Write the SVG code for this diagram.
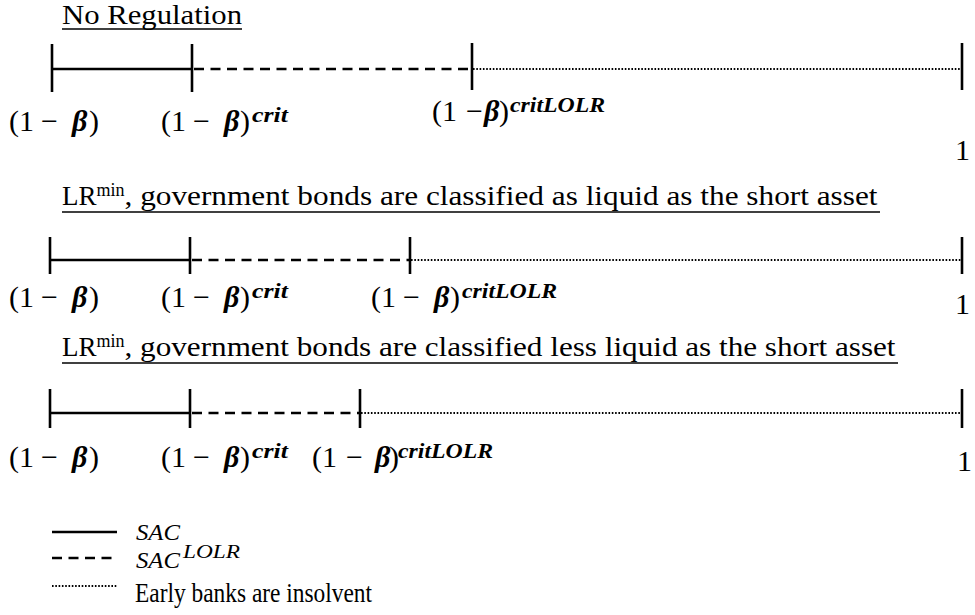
<svg xmlns="http://www.w3.org/2000/svg" width="975" height="615" viewBox="0 0 975 615">
<style>
text{font-family:"Liberation Serif","Times New Roman",serif;fill:#000}
.t{font-size:27px}
.l{font-size:30px}
.b{font-weight:bold;font-style:italic}
.sup{font-size:21px;font-weight:bold;font-style:italic}
.ul{stroke:#000;stroke-width:1.3}
.tick{stroke:#000;stroke-width:2.6}
.solid{stroke:#000;stroke-width:2.6}
.dash{stroke:#000;stroke-width:2.3;stroke-dasharray:10 6.5}
.dot{stroke:#000;stroke-width:2;stroke-dasharray:1.6 1.7}
.it{font-style:italic}
</style>
<rect width="975" height="615" fill="#fff"/>
<g id="row1">
<g id="title1"><text class="t" x="62" y="24" textLength="180" lengthAdjust="spacingAndGlyphs">No Regulation</text><line class="ul" x1="62" y1="29" x2="242" y2="29"/></g>
<g id="connectors1">
<line class="solid" x1="52" y1="69" x2="192" y2="69"/>
<line class="dash" x1="194" y1="69" x2="472" y2="69"/>
<line class="dot" x1="473" y1="69" x2="962" y2="69"/>
</g>
<g id="ticks1">
<line class="tick" x1="52" y1="44" x2="52" y2="92"/>
<line class="tick" x1="192" y1="44" x2="192" y2="92"/>
<line class="tick" x1="472" y1="43" x2="472" y2="90"/>
<line class="tick" x1="962" y1="43" x2="962" y2="90"/>
</g>
<g id="labels1">
<text class="l" y="131"><tspan x="9">(1</tspan><tspan x="41">−</tspan><tspan class="b" x="72">β</tspan><tspan x="89">)</tspan></text>
<text class="l" y="131"><tspan x="161">(1</tspan><tspan x="193">−</tspan><tspan class="b" x="224">β</tspan><tspan x="240">)</tspan><tspan class="sup" x="252" dy="-9" textLength="36" lengthAdjust="spacingAndGlyphs">crit</tspan></text>
<text class="l" y="121"><tspan x="432">(1</tspan><tspan x="466">−</tspan><tspan class="b" x="484">β</tspan><tspan x="499">)</tspan><tspan class="sup" x="510" dy="-9" textLength="95" lengthAdjust="spacingAndGlyphs">critLOLR</tspan></text>
<text class="l" x="955" y="160">1</text>
</g>
</g>
<g id="row2">
<g id="title2"><text class="t" x="62" y="205">LR<tspan font-size="18" dy="-9">min</tspan><tspan dy="9" textLength="753" lengthAdjust="spacingAndGlyphs">, government bonds are classified as liquid as the short asset</tspan></text><line class="ul" x1="62" y1="212" x2="880" y2="212"/></g>
<g id="connectors2">
<line class="solid" x1="50" y1="260" x2="190" y2="260"/>
<line class="dash" x1="192" y1="260" x2="410" y2="260"/>
<line class="dot" x1="411" y1="260" x2="962" y2="260"/>
</g>
<g id="ticks2">
<line class="tick" x1="50" y1="237" x2="50" y2="274"/>
<line class="tick" x1="190" y1="237" x2="190" y2="274"/>
<line class="tick" x1="410" y1="237" x2="410" y2="274"/>
<line class="tick" x1="962" y1="237" x2="962" y2="274"/>
</g>
<g id="labels2">
<text class="l" y="307"><tspan x="9">(1</tspan><tspan x="41">−</tspan><tspan class="b" x="72">β</tspan><tspan x="89">)</tspan></text>
<text class="l" y="307"><tspan x="161">(1</tspan><tspan x="193">−</tspan><tspan class="b" x="224">β</tspan><tspan x="240">)</tspan><tspan class="sup" x="252" dy="-9" textLength="36" lengthAdjust="spacingAndGlyphs">crit</tspan></text>
<text class="l" y="307"><tspan x="371">(1</tspan><tspan x="403">−</tspan><tspan class="b" x="434">β</tspan><tspan x="450">)</tspan><tspan class="sup" x="462" dy="-9" textLength="95" lengthAdjust="spacingAndGlyphs">critLOLR</tspan></text>
<text class="l" x="955" y="314">1</text>
</g>
</g>
<g id="row3">
<g id="title3"><text class="t" x="62" y="356">LR<tspan font-size="18" dy="-9">min</tspan><tspan dy="9" textLength="771" lengthAdjust="spacingAndGlyphs">, government bonds are classified less liquid as the short asset</tspan></text><line class="ul" x1="62" y1="363" x2="898" y2="363"/></g>
<g id="connectors3">
<line class="solid" x1="50" y1="413" x2="190" y2="413"/>
<line class="dash" x1="192" y1="413" x2="360" y2="413"/>
<line class="dot" x1="361" y1="413" x2="962" y2="413"/>
</g>
<g id="ticks3">
<line class="tick" x1="50" y1="389" x2="50" y2="428"/>
<line class="tick" x1="190" y1="389" x2="190" y2="428"/>
<line class="tick" x1="360" y1="389" x2="360" y2="428"/>
<line class="tick" x1="962" y1="389" x2="962" y2="428"/>
</g>
<g id="labels3">
<text class="l" y="467"><tspan x="9">(1</tspan><tspan x="41">−</tspan><tspan class="b" x="72">β</tspan><tspan x="89">)</tspan></text>
<text class="l" y="467"><tspan x="161">(1</tspan><tspan x="193">−</tspan><tspan class="b" x="224">β</tspan><tspan x="240">)</tspan><tspan class="sup" x="252" dy="-9" textLength="36" lengthAdjust="spacingAndGlyphs">crit</tspan></text>
<text class="l" y="467"><tspan x="312">(1</tspan><tspan x="346">−</tspan><tspan class="b" x="375">β</tspan><tspan x="389">)</tspan><tspan class="sup" x="398" dy="-9" textLength="95" lengthAdjust="spacingAndGlyphs">critLOLR</tspan></text>
<text class="l" x="957" y="471">1</text>
</g>
</g>
<g id="legend">
<line class="solid" x1="52" y1="532" x2="117" y2="532"/>
<text class="it" font-size="24" x="136" y="540" textLength="44" lengthAdjust="spacingAndGlyphs">SAC</text>
<line class="dash" x1="52" y1="558" x2="117" y2="558" stroke-dasharray="11 7"/>
<text class="it" font-size="24" x="136" y="568"><tspan textLength="44" lengthAdjust="spacingAndGlyphs">SAC</tspan><tspan font-size="19" dy="-10" x="183" textLength="57" lengthAdjust="spacingAndGlyphs">LOLR</tspan></text>
<line class="dot" x1="52" y1="586" x2="117" y2="586"/>
<text font-size="27" x="135" y="602" textLength="237" lengthAdjust="spacingAndGlyphs">Early banks are insolvent</text>
</g>
</svg>
